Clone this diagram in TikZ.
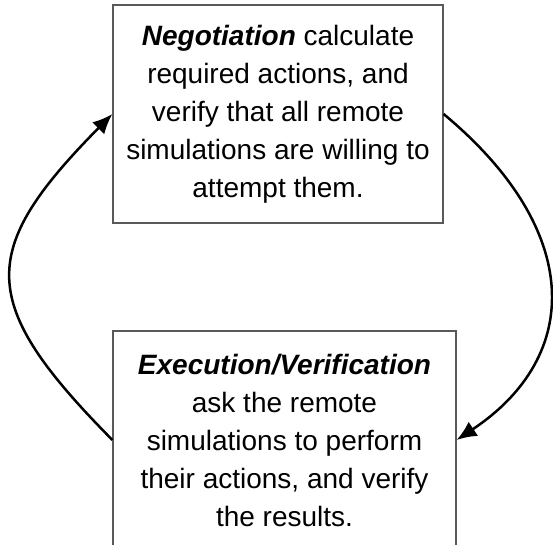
\documentclass[tikz,border=0pt]{standalone}
\usepackage{fontspec}
\setmainfont{Liberation Sans}
\usetikzlibrary{arrows.meta}

\begin{document}
\begin{tikzpicture}[
    x=0.5pt, y=-0.5pt,
    phase/.style={draw=black!65, line width=0.6pt, align=center, inner sep=0pt,
      font=\fontsize{14}{19}\selectfont},
    cycle arrow/.style={-{Latex[length=10pt,width=8.5pt]}, line width=1.25pt}
    ]

    \useasboundingbox (0,0) rectangle (553,545);
    \clip (0,0) rectangle (553,545);
    % the two phases
    \node[phase, minimum width=165pt, minimum height=109pt] (nego) at (278,114)
      {\textbf{\textit{Negotiation}} calculate\\ required actions, and\\
       verify that all remote\\ simulations are willing to\\ attempt them.};
    \node[phase, minimum width=171.5pt, minimum height=109pt] (exec) at (284.5,440)
      {\textbf{\textit{Execution/Verification}}\\ ask the remote\\
       simulations to perform\\ their actions, and verify\\ the results.};
    % control points of the loop
    \coordinate (l1) at (-23,303);
    \coordinate (l2) at (-23,251);
    \coordinate (r1) at (583,230);
    \coordinate (r2) at (583,356);
    % loop between the phases
    \draw[cycle arrow] (nego.east) .. controls (r1) and (r2) .. (exec.east);
    \draw[cycle arrow] (exec.west) .. controls (l1) and (l2) .. (nego.west);

\end{tikzpicture}
\end{document}
